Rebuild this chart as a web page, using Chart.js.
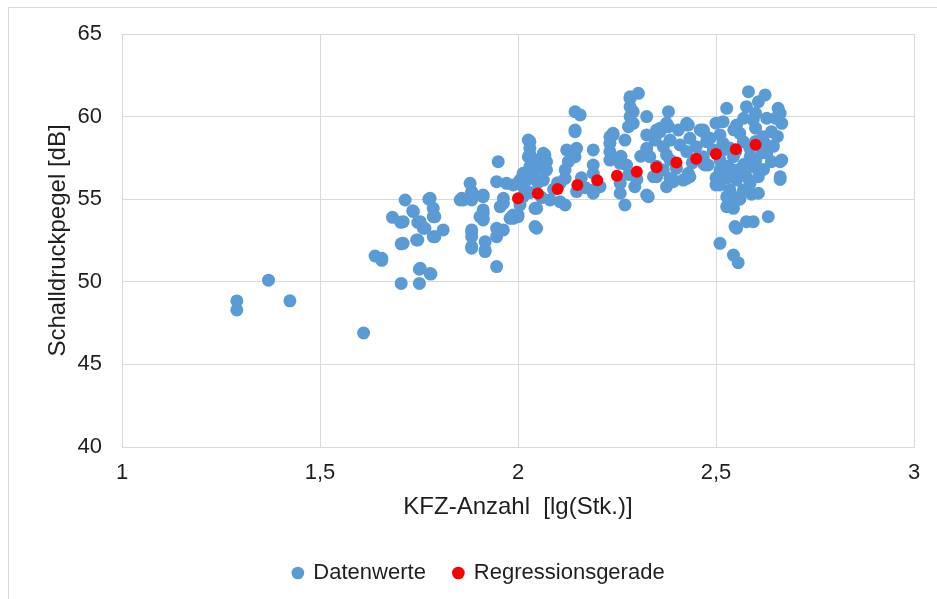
<!DOCTYPE html>
<html lang="de">
<head>
<meta charset="utf-8">
<title>Schalldruckpegel vs. KFZ-Anzahl</title>
<script src="https://cdn.jsdelivr.net/npm/chart.js@4.4.1/dist/chart.umd.min.js"></script>
<style>
    html, body { margin: 0; padding: 0; background: #ffffff; overflow: hidden; }
    #frame { position: absolute; left: 8px; top: 7px; width: 1000px; height: 700px; border: 1px solid #d9d9d9; }
    #wrap { position: absolute; left: 0; top: 0; width: 937px; height: 599px; }
</style>
</head>
<body>
<div id="frame"></div>
<div id="wrap"><canvas id="scatterChart" width="937" height="599"></canvas></div>
<script>
const dataX = [
    1.29, 1.29, 1.37, 1.424, 1.61,
    1.715, 1.775, 1.778, 1.734, 1.736, 1.786, 1.683, 1.704, 1.71, 1.747, 1.753, 1.786, 1.79,
    1.761, 1.765, 1.811, 1.79, 1.786, 1.747, 1.744, 1.705, 1.71, 1.639, 1.656, 1.656,
    1.751, 1.753, 1.78, 1.778, 1.705, 1.751,
    1.95, 1.879, 1.946, 1.971, 1.854, 1.862, 1.883, 1.883, 1.883, 1.912, 1.912, 1.963,
    1.955, 1.963, 1.912, 1.912, 1.912, 1.912, 1.904, 1.98, 1.988, 1.883, 1.883, 1.883,
    1.946, 1.963, 1.946, 1.917, 1.883, 1.883, 1.917, 1.917, 1.946, 2.0, 2.0, 1.858,
    2.022, 2.144, 2.157, 2.144, 2.144, 2.03, 2.026, 2.03, 2.03, 2.026, 2.064, 2.068,
    2.043, 2.072, 2.03, 2.056, 2.072, 2.013, 2.039, 2.064, 2.005, 1.988, 2.013, 2.013,
    2.005, 1.988, 2.043, 2.047, 2.043, 2.047, 2.081, 2.106, 2.119, 2.123, 2.148, 2.144,
    2.127, 2.119, 2.119, 2.106, 2.148, 2.19, 2.19, 2.19, 2.19, 2.19, 2.207,
    2.03, 2.06, 2.09, 2.1, 2.05, 2.17, 2.16,
    2.232, 2.24, 2.24, 2.232, 2.27, 2.232, 2.232, 2.258, 2.274, 2.258, 2.258, 2.27,
    2.279, 2.283, 2.283, 2.283, 2.283, 2.304, 2.295, 2.38, 2.325, 2.291, 2.291, 2.359,
    2.375, 2.38, 2.426, 2.426, 2.43, 2.325, 2.359, 2.35, 2.405, 2.46, 2.468, 2.485,
    2.346, 2.384, 2.434, 2.325, 2.367, 2.409, 2.45, 2.333, 2.375, 2.426, 2.468, 2.384,
    2.367, 2.4, 2.43, 2.384, 2.417, 2.35, 2.342, 2.392, 2.392, 2.426, 2.434, 2.375,
    2.325, 2.329, 2.48, 2.472,
    2.3, 2.31, 2.28, 2.26, 2.35, 2.44,
    2.527, 2.518, 2.582, 2.624, 2.607, 2.577, 2.657, 2.662, 2.666, 2.628, 2.594, 2.552,
    2.468, 2.51, 2.56, 2.64, 2.476, 2.518, 2.569, 2.619, 2.628, 2.628, 2.64, 2.666,
    2.662, 2.662, 2.662, 2.468, 2.51, 2.544, 2.586, 2.51, 2.552, 2.594, 2.51, 2.5,
    2.535, 2.569, 2.607, 2.607, 2.552, 2.586, 2.544, 2.527, 2.527, 2.544, 2.548, 2.552,
    2.577, 2.594, 2.632, 2.51, 2.544, 2.556, 2.493,
    2.52, 2.535, 2.585, 2.6, 2.55, 2.57, 2.53, 2.575, 2.6, 2.615, 2.5, 2.53,
    2.56, 2.59, 2.6, 2.545, 2.5, 2.62, 2.645, 2.655, 2.65, 2.6, 2.57
];
const dataY = [
    48.84, 48.3, 50.1, 48.85, 46.9,
    54.95, 55.0, 55.05, 54.3, 54.25, 54.45, 53.9, 53.6, 53.64, 53.6, 53.64, 53.94, 53.94,
    53.24, 53.24, 53.14, 52.73, 52.73, 52.53, 52.53, 52.3, 52.33, 51.56, 51.42, 51.3,
    50.76, 50.82, 50.47, 50.5, 49.9, 49.9,
    57.27, 55.96, 56.06, 55.96, 54.95, 54.95, 54.95, 55.36, 55.46, 55.25, 55.15, 55.05,
    54.55, 54.75, 54.35, 54.15, 53.84, 53.74, 53.94, 53.84, 53.84, 53.14, 53.03, 52.73,
    53.24, 53.14, 52.73, 52.43, 52.13, 52.03, 51.83, 51.93, 50.92, 53.94, 54.04, 55.05,
    56.16, 60.3, 60.1, 59.09, 59.19, 58.48, 58.58, 58.08, 57.7, 57.57, 57.78, 57.68,
    57.37, 57.27, 56.97, 56.87, 56.77, 56.57, 56.36, 56.16, 56.16, 55.86, 55.76, 55.15,
    54.65, 54.04, 54.45, 54.45, 53.34, 53.24, 54.95, 54.85, 54.65, 57.98, 58.08, 57.57,
    57.27, 56.77, 56.26, 55.96, 55.46, 57.98, 57.07, 56.57, 55.56, 55.36, 55.76,
    55.4, 55.1, 55.6, 56.0, 56.0, 55.7, 56.3,
    58.78, 58.99, 58.89, 58.38, 58.58, 57.88, 57.37, 57.17, 57.07, 55.96, 55.36, 54.65,
    59.39, 60.0, 60.6, 61.2, 61.1, 61.41, 55.76, 60.3, 60.0, 60.3, 59.59, 59.29,
    59.59, 59.39, 59.49, 59.59, 59.49, 58.89, 59.09, 59.19, 59.19, 59.19, 59.19, 58.69,
    58.58, 58.58, 58.69, 58.08, 58.18, 58.28, 58.18, 57.57, 57.68, 57.88, 57.57, 57.37,
    56.77, 56.87, 56.57, 56.26, 56.16, 56.36, 56.36, 56.06, 56.16, 56.26, 56.36, 55.76,
    55.25, 55.15, 57.07, 57.07,
    56.2, 57.6, 56.5, 57.6, 57.0, 57.2,
    60.5, 59.69, 61.51, 61.31, 60.9, 60.6, 60.5, 60.2, 59.59, 59.9, 59.79, 59.49,
    59.09, 58.89, 58.99, 59.09, 58.48, 58.38, 58.48, 58.78, 58.28, 57.78, 57.27, 57.37,
    57.27, 56.36, 56.2, 57.17, 57.37, 57.57, 57.57, 56.77, 56.77, 56.97, 55.86, 55.86,
    55.56, 55.56, 56.36, 55.36, 56.16, 55.96, 55.15, 55.15, 54.55, 54.45, 53.34, 53.24,
    53.64, 53.64, 53.94, 52.33, 51.62, 51.16, 57.98,
    58.0, 58.1, 58.1, 58.5, 57.9, 57.1, 56.3, 56.4, 57.3, 57.8, 56.3, 57.0,
    55.0, 55.3, 59.3, 59.2, 59.6, 56.8, 58.2, 58.8, 59.9, 60.2, 59.9
];

// Punkte der Regressionsgeraden
const regX = [2.0, 2.05, 2.1, 2.15, 2.2, 2.25, 2.3, 2.35, 2.4, 2.45, 2.5, 2.55, 2.6];
const regY = [55.05, 55.34, 55.62, 55.86, 56.14, 56.42, 56.66, 56.93, 57.22, 57.45, 57.74, 58.02, 58.3];

// Achsen
const xMin = 1, xMax = 3, xStep = 0.5;
const yMin = 40, yMax = 65, yStep = 5;

const textColor = '#1f1f1f';
const gridColor = '#d9d9d9';
const fontFamily = "'Liberation Sans', Arial, sans-serif";

function toPoints(xs, ys) {
    return xs.map((x, i) => ({ x: x, y: ys[i] }));
}

// Dezimalkomma wie im Original
function germanNumber(value) {
    return String(value).replace('.', ',');
}

document.addEventListener('DOMContentLoaded', function () {
    const ctx = document.getElementById('scatterChart').getContext('2d');

    new Chart(ctx, {
        type: 'scatter',
        data: {
            datasets: [{
                label: 'Datenwerte',
                data: toPoints(dataX, dataY),
                backgroundColor: '#5b9bd5',
                borderWidth: 0,
                pointRadius: 6.5,
                pointHoverRadius: 6.5,
                order: 2
            }, {
                label: 'Regressionsgerade',
                data: toPoints(regX, regY),
                backgroundColor: '#ff0000',
                borderWidth: 0,
                pointRadius: 6,
                pointHoverRadius: 6,
                order: 1
            }]
        },
        options: {
            responsive: false,
            animation: false,
            layout: {
                padding: { left: 44, top: 34, right: 23, bottom: 5 }
            },
            scales: {
                x: {
                    type: 'linear',
                    min: xMin,
                    max: xMax,
                    afterFit: function (scale) { scale.height = 87; },
                    grid: { color: gridColor, drawTicks: false },
                    border: { color: gridColor },
                    ticks: {
                        stepSize: xStep,
                        padding: 13,
                        color: textColor,
                        font: { family: fontFamily, size: 22 },
                        callback: germanNumber
                    },
                    title: {
                        display: true,
                        text: 'KFZ-Anzahl  [lg(Stk.)]',
                        color: textColor,
                        padding: { top: 0, bottom: 12 },
                        font: { family: fontFamily, size: 24 }
                    }
                },
                y: {
                    min: yMin,
                    max: yMax,
                    afterFit: function (scale) { scale.width = 78; },
                    grid: { color: gridColor, drawTicks: false },
                    border: { color: gridColor },
                    ticks: {
                        stepSize: yStep,
                        padding: 20,
                        color: textColor,
                        font: { family: fontFamily, size: 22 }
                    },
                    title: {
                        display: true,
                        text: 'Schalldruckpegel [dB]',
                        color: textColor,
                        padding: { top: 0, bottom: 0 },
                        font: { family: fontFamily, size: 24 }
                    }
                }
            },
            plugins: {
                legend: {
                    position: 'bottom',
                    reverse: true,
                    labels: {
                        usePointStyle: true,
                        pointStyle: 'circle',
                        boxWidth: 9,
                        boxHeight: 9,
                        padding: 28,
                        color: textColor,
                        font: { family: fontFamily, size: 22 }
                    }
                },
                tooltip: { enabled: false }
            }
        }
    });
});
</script>
</body>
</html>
